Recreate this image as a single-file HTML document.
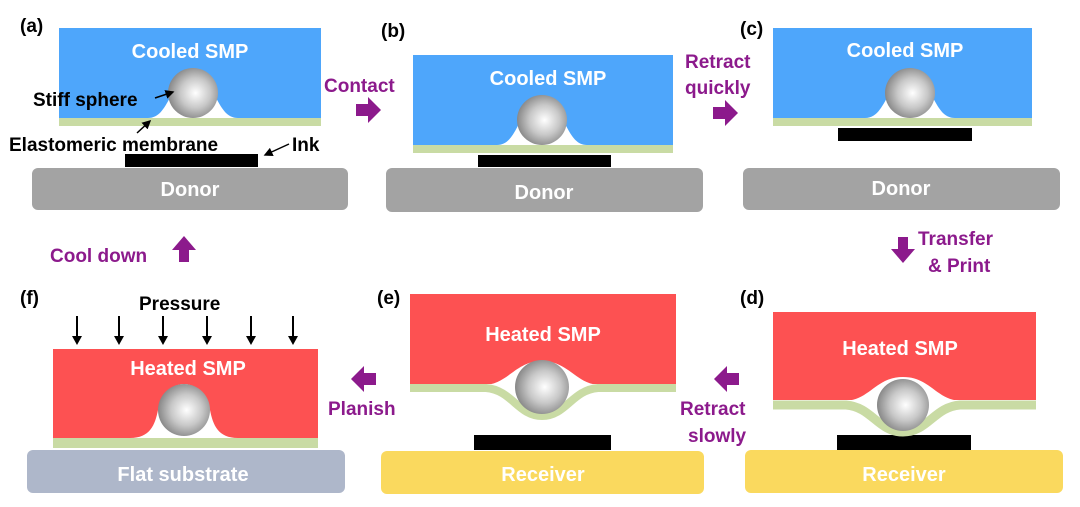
<!DOCTYPE html>
<html><head><meta charset="utf-8"><style>
html,body{margin:0;padding:0;background:#fff;}
svg{display:block;font-family:"Liberation Sans",sans-serif;font-weight:bold;}
</style></head><body>
<svg width="1080" height="507" viewBox="0 0 1080 507" xmlns="http://www.w3.org/2000/svg">
<defs>
<radialGradient id="sp" cx="0.55" cy="0.5" r="0.6">
<stop offset="0" stop-color="#ffffff"/><stop offset="0.5" stop-color="#c8c8c8"/><stop offset="1" stop-color="#7a7a7a"/>
</radialGradient>
<marker id="ah" markerWidth="6" markerHeight="6" refX="5" refY="3" orient="auto"><path d="M0,0 L6,3 L0,6 Z" fill="#000"/></marker>
</defs>
<g fill="#fff" font-size="20" text-anchor="middle">
<!-- (a) -->
<rect x="32" y="168" width="316" height="42" rx="6" fill="#a3a3a3"/>
<text x="190" y="196">Donor</text>
<rect x="125" y="154" width="133" height="13" fill="#000"/>
<rect x="59" y="28" width="262" height="90" fill="#4ea6fb"/>
<rect x="59" y="118" width="262" height="8" fill="#c9dba4"/>
<path d="M148,118 C170,118 168,80 193,80 C218,80 216,118 238,118 Z" fill="#fff"/>
<circle cx="193" cy="93" r="25" fill="url(#sp)"/>
<text x="190" y="58">Cooled SMP</text>
<!-- (b) -->
<rect x="386" y="168" width="317" height="44" rx="6" fill="#a3a3a3"/>
<text x="544" y="199">Donor</text>
<rect x="478" y="155" width="133" height="12" fill="#000"/>
<rect x="413" y="55" width="260" height="90" fill="#4ea6fb"/>
<rect x="413" y="145" width="260" height="8" fill="#c9dba4"/>
<path d="M497,145 C519,145 517,105 542,105 C567,105 565,145 587,145 Z" fill="#fff"/>
<circle cx="542" cy="120" r="25" fill="url(#sp)"/>
<text x="548" y="85">Cooled SMP</text>
<!-- (c) -->
<rect x="743" y="168" width="317" height="42" rx="6" fill="#a3a3a3"/>
<text x="901" y="195">Donor</text>
<rect x="838" y="128" width="134" height="13" fill="#000"/>
<rect x="773" y="28" width="259" height="90" fill="#4ea6fb"/>
<rect x="773" y="118" width="259" height="8" fill="#c9dba4"/>
<path d="M865,118 C887,118 885,80 910,80 C935,80 933,118 955,118 Z" fill="#fff"/>
<circle cx="910" cy="93" r="25" fill="url(#sp)"/>
<text x="905" y="57">Cooled SMP</text>
<!-- (d) -->
<rect x="745" y="450" width="318" height="43" rx="6" fill="#fad95e"/>
<text x="904" y="481">Receiver</text>
<rect x="837" y="435" width="134" height="15" fill="#000"/>
<rect x="773" y="312" width="263" height="88" fill="#fd5152"/>
<path d="M843,401 C870,401 875,377 903,377 C931,377 936,401 963,401 Z" fill="#fff"/>
<path d="M773,405 L846,405 C872,407 878,432 903,432 C928,432 934,407 960,405 L1036,405" fill="none" stroke="#c9dba4" stroke-width="9"/>
<circle cx="903" cy="405" r="26" fill="url(#sp)"/>
<text x="900" y="355">Heated SMP</text>
<!-- (e) -->
<rect x="381" y="451" width="323" height="43" rx="6" fill="#fad95e"/>
<text x="543" y="481">Receiver</text>
<rect x="474" y="435" width="137" height="15" fill="#000"/>
<rect x="410" y="294" width="266" height="90" fill="#fd5152"/>
<path d="M483,385 C508,385 515,361 542,361 C569,361 576,385 601,385 Z" fill="#fff"/>
<path d="M410,388 L486,388 C512,390 518,416 542,416 C566,416 572,390 598,388 L676,388" fill="none" stroke="#c9dba4" stroke-width="8"/>
<circle cx="542" cy="387" r="27" fill="url(#sp)"/>
<text x="543" y="341">Heated SMP</text>
<!-- (f) -->
<rect x="27" y="450" width="318" height="43" rx="6" fill="#aeb7ca"/>
<text x="183" y="481">Flat substrate</text>
<rect x="53" y="349" width="265" height="89" fill="#fd5152"/>
<rect x="53" y="438" width="265" height="10" fill="#c9dba4"/>
<path d="M130,438 C150,438 155,425 158,410 C160,398 170,384 184,384 C198,384 208,398 210,410 C213,425 218,438 238,438 Z" fill="#fff"/>
<circle cx="184" cy="410" r="26" fill="url(#sp)"/>
<text x="188" y="375">Heated SMP</text>
</g>
<!-- black labels -->
<g font-size="19" fill="#000">
<text x="20" y="32">(a)</text>
<text x="381" y="37">(b)</text>
<text x="740" y="35">(c)</text>
<text x="740" y="304">(d)</text>
<text x="377" y="304">(e)</text>
<text x="20" y="304">(f)</text>
<text x="33" y="106">Stiff sphere</text>
<text x="9" y="151">Elastomeric membrane</text>
<text x="292" y="151">Ink</text>
<text x="139" y="310">Pressure</text>
</g>
<g stroke="#000" stroke-width="1.5" fill="none" marker-end="url(#ah)">
<line x1="155" y1="98" x2="173" y2="92"/>
<line x1="137" y1="133" x2="150" y2="121"/>
<line x1="289" y1="144" x2="265" y2="155"/>
</g>
<g stroke="#000" stroke-width="2">
<line x1="77" y1="316" x2="77" y2="338"/><line x1="119" y1="316" x2="119" y2="338"/><line x1="163" y1="316" x2="163" y2="338"/><line x1="207" y1="316" x2="207" y2="338"/><line x1="251" y1="316" x2="251" y2="338"/><line x1="293" y1="316" x2="293" y2="338"/>
</g>
<g fill="#000">
<path d="M72,336 L82,336 L77,345 Z"/><path d="M114,336 L124,336 L119,345 Z"/><path d="M158,336 L168,336 L163,345 Z"/><path d="M202,336 L212,336 L207,345 Z"/><path d="M246,336 L256,336 L251,345 Z"/><path d="M288,336 L298,336 L293,345 Z"/>
</g>
<!-- purple -->
<g fill="#8c1a8c" font-size="19">
<text x="324" y="92">Contact</text>
<text x="685" y="68">Retract</text>
<text x="685" y="94">quickly</text>
<text x="918" y="245">Transfer</text>
<text x="928" y="272">&amp; Print</text>
<text x="50" y="262">Cool down</text>
<text x="680" y="415">Retract</text>
<text x="688" y="442">slowly</text>
<text x="328" y="415">Planish</text>
<path d="M356,104 L368,104 L368,97 L381,110 L368,123 L368,116 L356,116 Z"/>
<path d="M713,107 L725,107 L725,100 L738,113 L725,126 L725,119 L713,119 Z"/>
<path d="M898,237 L908,237 L908,249 L915,249 L903,263 L891,249 L898,249 Z"/>
<path d="M179,262 L189,262 L189,250 L196,250 L184,236 L172,250 L179,250 Z"/>
<path d="M739,373 L727,373 L727,366 L714,379 L727,392 L727,385 L739,385 Z"/>
<path d="M376,373 L364,373 L364,366 L351,379 L364,392 L364,385 L376,385 Z"/>
</g>
</svg>
</body></html>
